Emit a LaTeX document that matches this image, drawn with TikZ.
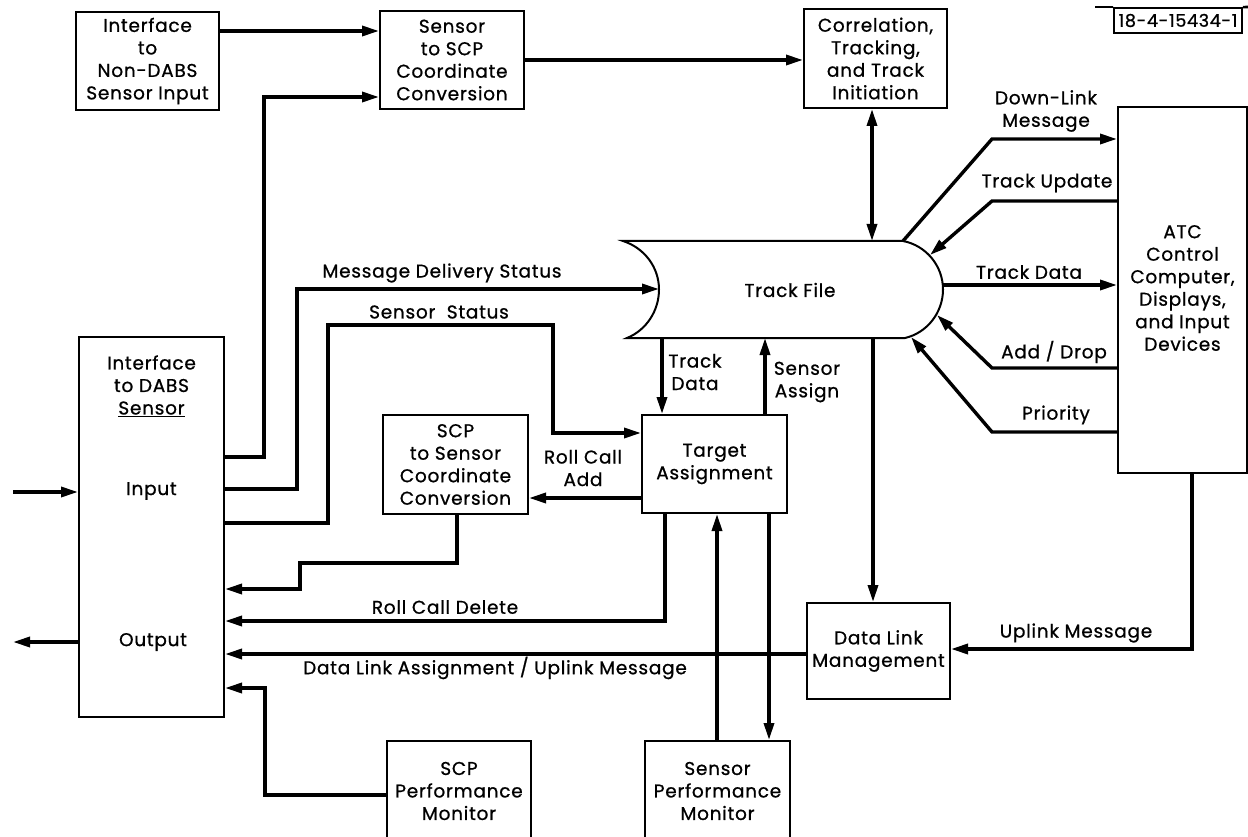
\documentclass[tikz,border=0pt]{standalone}
\usepackage{fontspec}
\setmainfont{Poppins}[LetterSpace=4,FakeBold=0.8]
\usetikzlibrary{arrows.meta}
\newcommand\dfont{\fontsize{18.5}{22.5}\selectfont}
\begin{document}
\begin{tikzpicture}[x=1pt,y=-1pt,
  box/.style={draw, line width=2pt, align=center, inner sep=0pt, font=\dfont},
  conn/.style={line width=3.4pt, -{Triangle[length=17pt,width=10pt]}},
  dconn/.style={line width=3.4pt, {Triangle[length=17pt,width=10pt]}-{Triangle[length=17pt,width=10pt]}},
  lbl/.style={font=\dfont, inner sep=0pt, align=center}]
\useasboundingbox (0,0) rectangle (1248,837);
\clip (0,0) rectangle (1248,837);
\fill[white] (0,0) rectangle (1248,837);

% boxes
\node[box, minimum width=143pt, minimum height=98pt] (nondabs) at (147.5,61) {Interface\\to\\Non-DABS\\Sensor Input};
\node[box, minimum width=144pt, minimum height=98pt] (s2scp) at (452,60) {Sensor\\to SCP\\Coordinate\\Conversion};
\node[box, minimum width=143pt, minimum height=99pt] (corr) at (875.5,58.5) {Correlation,\\Tracking,\\and Track\\Initiation};
\node[box, minimum width=129pt, minimum height=366pt] (atc) at (1182.5,290) {};
\node[lbl] (atctext) at (1182.5,288) {ATC\\Control\\Computer,\\Displays,\\and Input\\Devices};
\node[box, minimum width=145pt, minimum height=380pt] (dabs) at (151.5,527) {};
\node[lbl] (dabstext) at (151.5,386) {Interface\\to DABS\\\underline{Sensor}};
\node[lbl] (input) at (151.5,491) {Input};
\node[lbl] (output) at (153,642) {Output};
\node[box, minimum width=145pt, minimum height=99pt] (scp2s) at (455.5,464.5) {SCP\\to Sensor\\Coordinate\\Conversion};
\node[box, minimum width=145pt, minimum height=98pt] (target) at (714.5,464) {Target\\Assignment};
\node[box, minimum width=143pt, minimum height=96pt] (dlm) at (878.5,651) {Data Link\\Management};
\node[box, minimum width=144pt, minimum height=100pt] (scpperf) at (459,791) {SCP\\Performance\\Monitor};
\node[box, minimum width=145pt, minimum height=100pt] (senperf) at (717.5,791) {Sensor\\Performance\\Monitor};

% figure number
\node[draw, line width=1.8pt, minimum width=128pt, minimum height=25pt, inner sep=0pt, font=\fontsize{17.5}{20}\selectfont] (fignum) at (1178,20.5) {18-4-15434-1};
\draw[line width=1.8pt] (1095,7) -- (fignum.north west);
\draw[line width=2.6pt] (fignum.north east) -- (1248,7);

% track file shape
\draw[line width=2pt] (623,241) -- (903,241)
  .. controls (926.2,245.5) and (943,265.9) .. (943,289.5)
  .. controls (943,312.4) and (927.3,332.8) .. (905,338)
  -- (627,338)
  .. controls (646.5,330.1) and (659,310.5) .. (659,289.5)
  .. controls (659,267.1) and (644.3,247.9) .. (623,241) -- cycle;
\node[lbl] (trackfile) at (790,290) {Track File};
\coordinate (tfw) at (659,289);
\coordinate (tfn) at (872,241);
\coordinate (tfs1) at (662,338);
\coordinate (tfs2) at (765,338);
\coordinate (tfs3) at (873,338);
\coordinate (tfne) at (903,241);
\coordinate (tfupd) at (930,255);
\coordinate (tfe) at (943,285);
\coordinate (tfadd) at (937,315);
\coordinate (tfpri) at (911,337);
\coordinate (inL) at (13,492);
\coordinate (outL) at (13,642);

% connectors
\draw[conn] (nondabs.east |- 0,31) -- (s2scp.west |- 0,31);
\draw[conn] (dabs.east |- 0,457) -| (264,97) -- (s2scp.west |- 0,97);
\draw[conn] (s2scp.east |- 0,60) -- (corr.west |- 0,60);
\draw[dconn] (corr.south -| 872,0) -- (tfn);
\draw[conn] (dabs.east |- 0,489) -| (297,289) -- (tfw);
\node[lbl] (lmds) at (442,273) {Message Delivery Status};
\draw[conn] (dabs.east |- 0,523) -| (328,325) -| (553,433) -- (target.west |- 0,433);
\node[lbl] (lss) at (439,312) {Sensor\ \ Status};
\draw[conn] (tfs1) -- (target.north -| 662,0);
\node[lbl] (ltd) at (695,372) {Track\\Data};
\draw[conn] (target.north -| 765,0) -- (tfs2);
\node[lbl] (lsa) at (807,382) {Sensor\\Assign};
\draw[conn] (tfs3) -- (dlm.north -| 873,0);
\draw[conn] (target.west |- 0,498) -- (scp2s.east |- 0,498);
\node[lbl] (lrca) at (583,468) {Roll Call\\Add};
\draw[conn] (scp2s.south -| 457,0) |- (300,563) |- (dabs.east |- 0,589);
\draw[conn] (target.south -| 665,0) |- (dabs.east |- 0,621);
\node[lbl] (lrcd) at (445,607) {Roll Call Delete};
\draw[conn] (dlm.west |- 0,654) -- (dabs.east |- 0,654);
\node[lbl, anchor=west] (ldla) at (303,668) {Data Link Assignment / Uplink Message};
\draw[conn] (senperf.north -| 717,0) -- (target.south -| 717,0);
\draw[conn] (target.south -| 769,0) -- (senperf.north -| 769,0);
\draw[conn] (atc.south -| 1192,0) |- (dlm.east |- 0,649);
\node[lbl] (lum) at (1076,633) {Uplink Message};
\draw[conn] (tfne) -- (992,139) -- (atc.west |- 0,139);
\node[lbl] (ldl) at (1046,111) {Down-Link\\Message};
\draw[conn] (atc.west |- 0,201) -- (992,201) -- (tfupd);
\node[lbl] (ltu) at (1047,183) {Track Update};
\draw[conn] (tfe) -- (atc.west |- 0,285);
\node[lbl] (ltd2) at (1029,272) {Track Data};
\draw[conn] (atc.west |- 0,368) -- (992,368) -- (tfadd);
\node[lbl] (lad) at (1054,352) {Add / Drop};
\draw[conn] (atc.west |- 0,432) -- (992,432) -- (tfpri);
\node[lbl] (lpr) at (1056,415) {Priority};
\draw[conn] (inL) -- (dabs.west |- 0,492);
\draw[conn] (dabs.west |- 0,642) -- (outL);
\draw[conn] (scpperf.west |- 0,795) -| (265,688) -- (dabs.east |- 0,688);
\end{tikzpicture}
\end{document}
